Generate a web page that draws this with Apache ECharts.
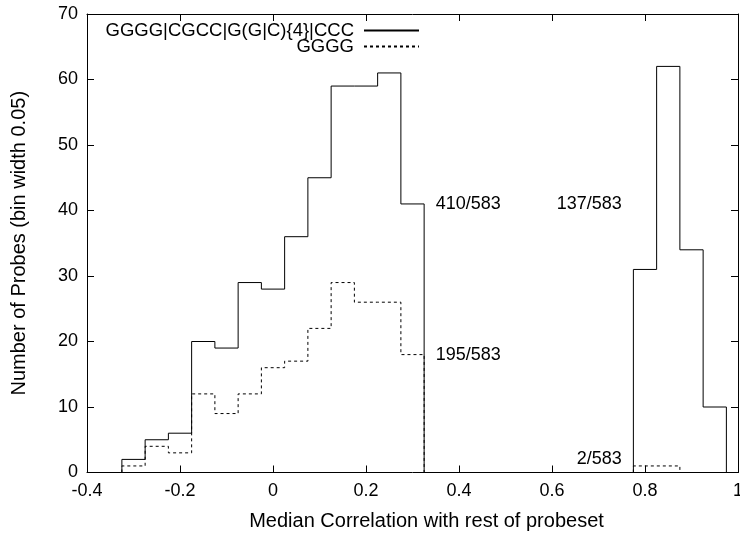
<!DOCTYPE html>
<html>
<head>
<meta charset="utf-8">
<script src="https://cdn.jsdelivr.net/npm/echarts@6/dist/echarts.min.js"></script>
<style>html,body{margin:0;padding:0;background:#fff}#c{width:740px;height:533px}</style>
</head>
<body>
<div id="c"></div>
<script>
// Bin width 0.05, values at bin centres
var binWidth = 0.05;
var leftCenters = [-0.30, -0.25, -0.20, -0.15, -0.10, -0.05, 0.00, 0.05, 0.10, 0.15, 0.20, 0.25, 0.30];
var rightCenters = [0.80, 0.85, 0.90, 0.95];
var seriesANameStr = 'GGGG|CGCC|G(G|C){4}|CCC';
var seriesBNameStr = 'GGGG';
var seriesALeft = [2, 5, 6, 20, 19, 29, 28, 36, 45, 59, 59, 61, 41];
var seriesARight = [31, 62, 34, 10];
var seriesBLeft = [1, 4, 3, 12, 9, 12, 16, 17, 22, 29, 26, 26, 18];
var seriesBRightCenters = [0.80, 0.85];
var seriesBRight = [1, 1];
var xTicks = [-0.4, -0.2, 0, 0.2, 0.4, 0.6, 0.8, 1];
var yTicks = [0, 10, 20, 30, 40, 50, 60, 70];
var annotations = [
  {text: '410/583', x: 0.35, y: 41, align: 'left'},
  {text: '137/583', x: 0.75, y: 41, align: 'right'},
  {text: '195/583', x: 0.35, y: 18, align: 'left'},
  {text: '2/583', x: 0.75, y: 2, align: 'right'}
];

function histSteps(centers, values) {
  var pts = [];
  var h = binWidth / 2;
  pts.push([centers[0] - h, 0]);
  for (var i = 0; i < centers.length; i++) {
    pts.push([centers[i] - h, values[i]]);
    pts.push([centers[i] + h, values[i]]);
  }
  pts.push([centers[centers.length - 1] + h, 0]);
  return pts;
}

var FONT = 'Liberation Sans';
var FS = 18;
var NFS = 20;
var chart = echarts.init(document.getElementById('c'), null, {renderer: 'canvas'});

var solidStyle = {color: '#000', width: 1, type: 'solid'};
var dashStyle = {color: '#000', width: 1, type: [3, 3]};

var annoData = annotations.map(function (a) {
  return {
    coord: [a.x, a.y],
    value: a.text,
    label: {show: true, formatter: a.text, position: 'inside', align: a.align,
      color: '#000', fontFamily: FONT, fontSize: FS}
  };
});

function legendCfg(name, top) {
  return {
    data: [name], right: 320, top: top, align: 'right', orient: 'vertical', padding: 0,
    itemWidth: 55, itemHeight: 10, selectedMode: false,
    itemStyle: {opacity: 0},
    textStyle: {fontFamily: FONT, fontSize: 18.5, color: '#000', padding: [0, 5, 0, 0]}
  };
}

var option = {
  animation: false,
  backgroundColor: '#fff',
  grid: {left: 87, right: 2, top: 14, bottom: 60.5, containLabel: false, outerBoundsMode: 'none'},
  legend: [legendCfg(seriesANameStr, 21), legendCfg(seriesBNameStr, 37)],
  xAxis: [
    {
      type: 'value', min: -0.4, max: 1, interval: 0.2, position: 'bottom',
      name: 'Median Correlation with rest of probeset', nameLocation: 'middle', nameGap: 39,
      nameTextStyle: {fontFamily: FONT, fontSize: NFS, color: '#000', padding: [0, 0, 0, 28]},
      axisLine: {show: true, onZero: false, lineStyle: {color: '#000', width: 1}},
      axisTick: {show: true, inside: true, length: 7, lineStyle: {color: '#000'}},
      axisLabel: {show: true, margin: 10, fontFamily: FONT, fontSize: FS, color: '#000',
        formatter: function (v) { return String(Math.round(v * 10) / 10); }},
      splitLine: {show: false}
    },
    {
      type: 'value', min: -0.4, max: 1, interval: 0.2, position: 'top',
      axisLine: {show: true, onZero: false, lineStyle: {color: '#000', width: 1}},
      axisTick: {show: true, inside: true, length: 7, lineStyle: {color: '#000'}},
      axisLabel: {show: false}, splitLine: {show: false}
    }
  ],
  yAxis: [
    {
      type: 'value', min: 0, max: 70, interval: 10, position: 'left',
      name: 'Number of Probes (bin width 0.05)', nameLocation: 'middle', nameGap: 58, nameRotate: 90,
      nameTextStyle: {fontFamily: FONT, fontSize: NFS, color: '#000'},
      axisLine: {show: true, onZero: false, lineStyle: {color: '#000', width: 1}},
      axisTick: {show: true, inside: true, length: 7, lineStyle: {color: '#000'}},
      axisLabel: {show: true, margin: 9, fontFamily: FONT, fontSize: FS, color: '#000'},
      splitLine: {show: false}
    },
    {
      type: 'value', min: 0, max: 70, interval: 10, position: 'right',
      axisLine: {show: true, onZero: false, lineStyle: {color: '#000', width: 1}},
      axisTick: {show: true, inside: true, length: 7, lineStyle: {color: '#000'}},
      axisLabel: {show: false}, splitLine: {show: false}
    }
  ],
  series: [
    {
      name: seriesBNameStr, type: 'line', data: histSteps(leftCenters, seriesBLeft),
      showSymbol: false, symbol: 'none', lineStyle: dashStyle, itemStyle: {color: '#000'}, z: 2
    },
    {
      name: seriesBNameStr, type: 'line', data: histSteps(seriesBRightCenters, seriesBRight),
      showSymbol: false, symbol: 'none', lineStyle: dashStyle, itemStyle: {color: '#000'}, z: 2
    },
    {
      name: seriesANameStr, type: 'line', data: histSteps(leftCenters, seriesALeft),
      showSymbol: false, symbol: 'none', lineStyle: solidStyle, itemStyle: {color: '#000'}, z: 3,
      markPoint: {symbol: 'circle', symbolSize: 0, silent: true, data: annoData}
    },
    {
      name: seriesANameStr, type: 'line', data: histSteps(rightCenters, seriesARight),
      showSymbol: false, symbol: 'none', lineStyle: solidStyle, itemStyle: {color: '#000'}, z: 3
    }
  ]
};
chart.setOption(option);
</script>
</body>
</html>
